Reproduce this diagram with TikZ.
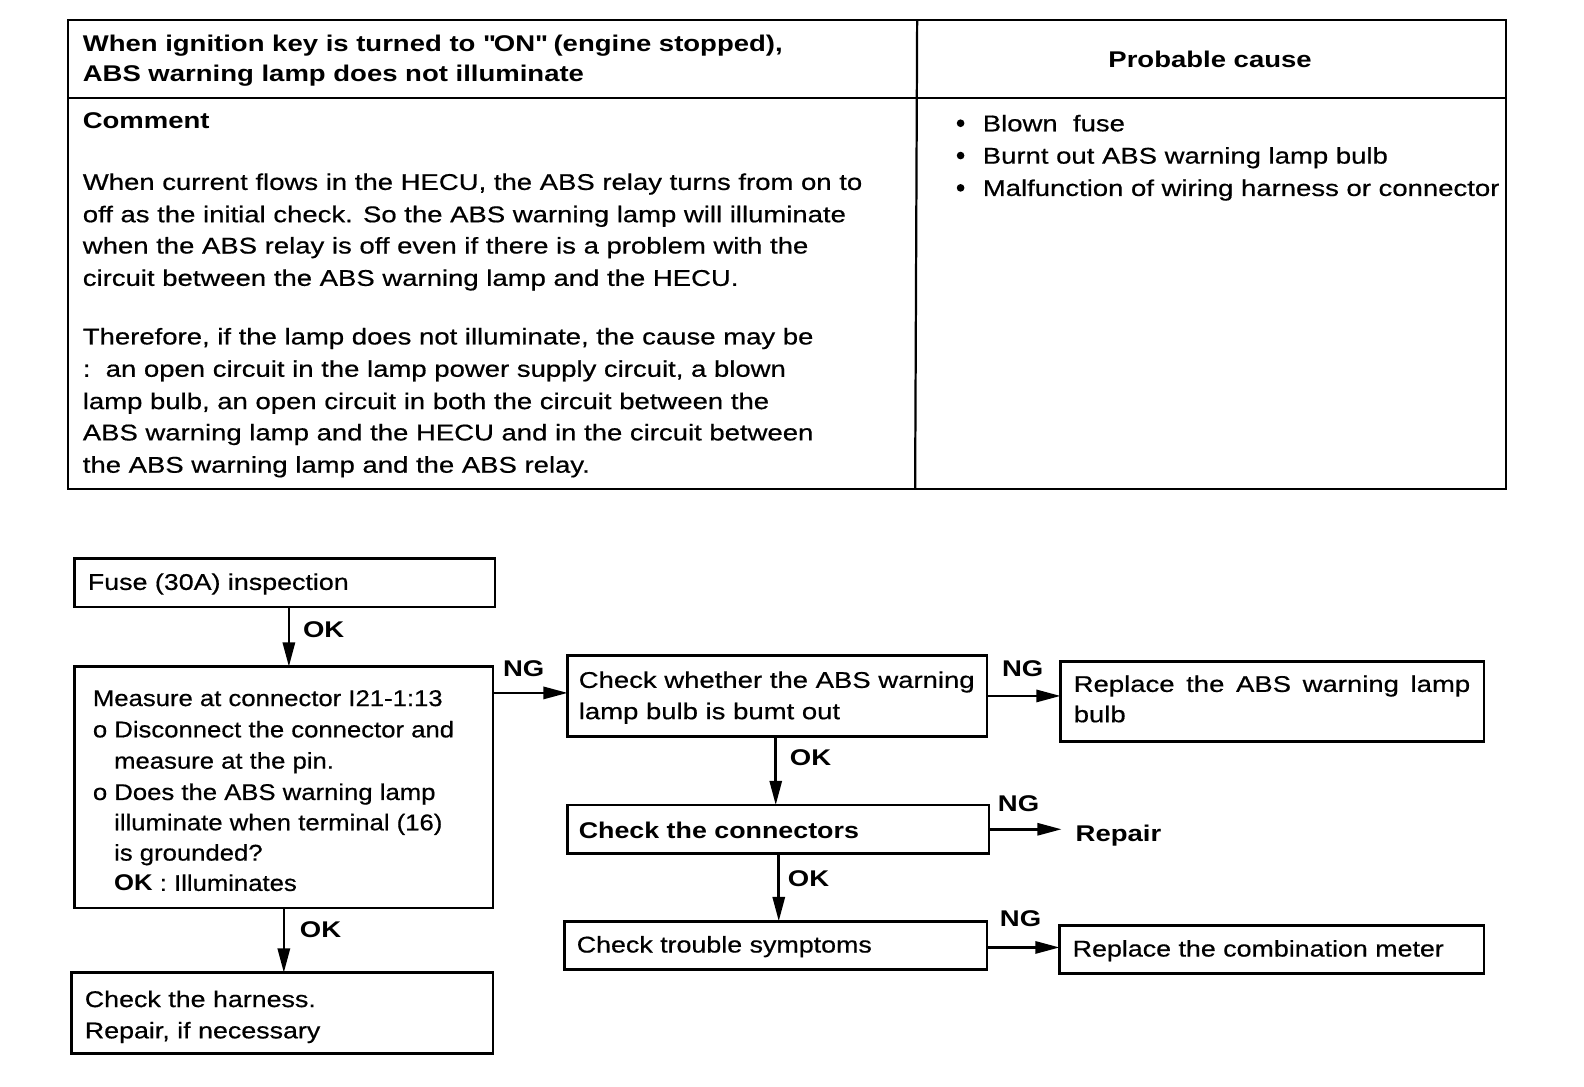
\documentclass[tikz,border=0pt]{standalone}
\usepackage{fontspec}
\setmainfont{Liberation Sans}[FakeStretch=1.21, UprightFeatures={FakeBold=0.6}]
\newfontfamily\flowfont{Liberation Sans}[FakeStretch=1.18, UprightFeatures={FakeBold=0.6}]
\newfontfamily\measfont{Liberation Sans}[FakeStretch=1.13, UprightFeatures={FakeBold=0.6}]
\usetikzlibrary{arrows.meta}
\newcommand\myfs{\fontsize{22.5pt}{31.5pt}\selectfont}
\newcommand\flowbox[5]{\node[box, minimum width=#4pt, minimum height=#5pt] (#1) at (#2,#3) {};}
\newcommand\gap{\hspace{11.5pt}}
\begin{document}
\begin{tikzpicture}[x=1pt,y=-1pt,
  every node/.style={font=\myfs, inner sep=0pt, outer sep=0pt},
  box/.style={draw, line width=2.6pt, anchor=north west},
  txt/.style={anchor=base west},
  ftxt/.style={anchor=base west, font=\flowfont\myfs},
  mtxt/.style={anchor=base west, font=\measfont\myfs},
  lbl/.style={anchor=base west, font=\myfs\bfseries},
  arr/.style={line width=2.6pt, -{Triangle[length=24pt,width=12pt]}},
  tbl/.style={line width=2.2pt}
]
\useasboundingbox (0,0) rectangle (1568.2,1075.2);
% ---------- table ----------
\draw[tbl] (67,20) rectangle (1491,484);
\draw[tbl] (67,97) -- (1491,97);
\draw[tbl] (908,20) -- (906,484);
\node[txt, font=\myfs\bfseries] (h1) at (82,51) {When ignition key is turned to \textquotedbl ON\textquotedbl\ (engine stopped),};
\node[txt, font=\myfs\bfseries] (h2) at (82,81) {ABS warning lamp does not illuminate};
\node[anchor=base, font=\myfs\bfseries] (pc) at (1198,67) {Probable cause};
\node[txt, font=\myfs\bfseries] (cm) at (82,127) {Comment};
\node[txt] (p1) at (82,188) {When current flows in the HECU, the ABS relay turns from on to};
\node[txt] (p2) at (82,220) {off as the initial check. So the ABS warning lamp will illuminate};
\node[txt] (p3) at (82,251) {when the ABS relay is off even if there is a problem with the};
\node[txt] (p4) at (82,283) {circuit between the ABS warning lamp and the HECU.};
\node[txt] (q1) at (82,341) {Therefore, if the lamp does not illuminate, the cause may be};
\node[txt] (q2) at (82,373) {:\ \ an open circuit in the lamp power supply circuit, a blown};
\node[txt] (q3) at (82,405) {lamp bulb, an open circuit in both the circuit between the};
\node[txt] (q4) at (82,436) {ABS warning lamp and the HECU and in the circuit between};
\node[txt] (q5) at (82,468) {the ABS warning lamp and the ABS relay.};
\foreach \yy/\tt [count=\i] in {130/Blown\ \ fuse, 162/Burnt out ABS warning lamp bulb, 194/Malfunction of wiring harness or connector}{
  \fill (951,\yy-8) circle (3.8pt);
  \node[txt] (b\i) at (973,\yy) {\tt};
}
% ---------- flowchart boxes ----------
\flowbox{fuse}{74}{553}{416}{48}
\flowbox{meas}{74}{660}{414}{239}
\flowbox{bulb}{562}{649}{415}{80}
\flowbox{repl}{1050}{655}{419}{79}
\flowbox{conn}{562}{797}{417}{48}
\flowbox{trbl}{559}{912}{418}{48}
\flowbox{comb}{1049}{916}{420}{48}
\flowbox{harn}{71}{963}{417}{80}
% ---------- box texts ----------
\node[ftxt] (t1) at (87,584) {Fuse (30A) inspection};
\node[mtxt] (m1) at (92,699) {Measure at connector I21-1:13};
\node[mtxt] (m2) at (92,730) {o Disconnect the connector and};
\node[mtxt] (m3) at (113,761) {measure at the pin.};
\node[mtxt] (m4) at (92,792) {o Does the ABS warning lamp};
\node[mtxt] (m5) at (113,822) {illuminate when terminal (16)};
\node[mtxt] (m6) at (113,852) {is grounded?};
\node[mtxt] (m7) at (113,882) {\textbf{OK} : Illuminates};
\node[txt] (k1) at (573,681) {Check whether the ABS warning};
\node[txt] (k2) at (573,712) {lamp bulb is bumt out};
\node[txt] (r1) at (1063,685) {Replace\gap the\gap ABS\gap warning\gap lamp};
\node[txt] (r2) at (1063,715) {bulb};
\node[ftxt, font=\flowfont\myfs\bfseries] (c1) at (573,830) {Check the connectors};
\node[txt, font=\myfs\bfseries] (repair) at (1065,833) {Repair};
\node[ftxt] (s1) at (571,943) {Check trouble symptoms};
\node[ftxt] (x1) at (1062,947) {Replace the combination meter};
\node[ftxt] (w1) at (84,997) {Check the harness.};
\node[ftxt] (w2) at (84,1028) {Repair, if necessary};
% ---------- connectors ----------
\draw[arr] ([xshift=212pt]fuse.south west) -- ([xshift=212pt]meas.north west);
\draw[arr] ([xshift=207pt]meas.south west) -- ([xshift=210pt]harn.north west);
\draw[arr] ([yshift=-26pt]meas.north east) -- ([yshift=-26pt]meas.north east -| bulb.west);
\draw[arr] (bulb.east) -- (bulb.east -| repl.west);
\draw[arr] ([xshift=206pt]bulb.south west) -- ([xshift=206pt]conn.north west);
\draw[arr, shorten >=14pt] (conn.east) -- (conn.east -| repair.west);
\draw[arr] ([xshift=209pt]conn.south west) -- ([xshift=209pt]conn.south west |- trbl.north);
\draw[arr] ([yshift=-2pt]trbl.east) -- ([yshift=-2pt]trbl.east -| comb.west);
% ---------- labels ----------
\node[lbl] (ok1) at (300,631) {OK};
\node[lbl] (ok2) at (297,928) {OK};
\node[lbl] (ok3) at (782,758) {OK};
\node[lbl] (ok4) at (780,878) {OK};
\node[lbl] (ng1) at (498,670) {NG};
\node[lbl] (ng2) at (992,670) {NG};
\node[lbl] (ng3) at (988,803) {NG};
\node[lbl] (ng4) at (990,917) {NG};
\end{tikzpicture}
\end{document}
